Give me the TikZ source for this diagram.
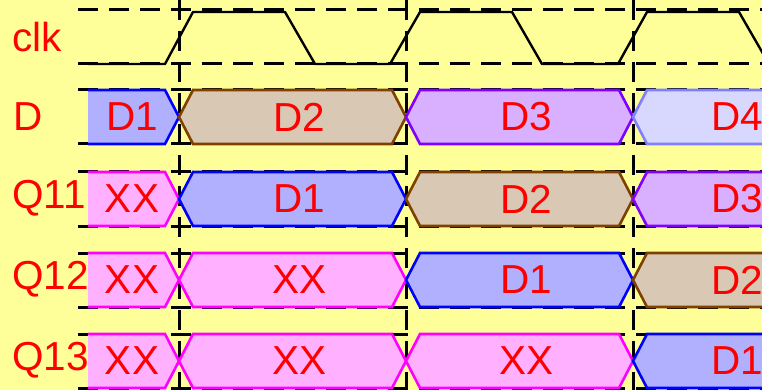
\documentclass[tikz,border=0pt]{standalone}
\usepackage{fontspec}
\setmainfont{Liberation Sans}
\definecolor{bg}{HTML}{FFFF99}
\definecolor{fblue}{HTML}{B0B0FF}\definecolor{lblue}{HTML}{0000FF}
\definecolor{ftan}{HTML}{D8C8B4}\definecolor{ltan}{HTML}{804000}
\definecolor{fpur}{HTML}{D8B0FF}\definecolor{lpur}{HTML}{8000FF}
\definecolor{flav}{HTML}{D8D8FF}\definecolor{llav}{HTML}{8080FF}
\definecolor{fpink}{HTML}{FFB0FF}\definecolor{lpink}{HTML}{FF00FF}
\tikzset{
  gridline/.style={black, line width=3pt, dash pattern=on 20pt off 11pt},
  clkline/.style={black, line width=2.4pt, line join=round},
  bus/.style={line width=2.6pt, line join=miter},
  lbl/.style={text=red, font=\fontsize{40.5}{40}\selectfont, inner sep=0pt},
  rowlbl/.style={lbl, anchor=west}
}
\newcommand\firstseg[5]{%
  \fill[#2] (88,#1) -- (165,#1) -- (179,#1+27) -- (165,#1+54) -- (88,#1+54) -- cycle;
  \draw[bus,#3] (88,#1) -- (165,#1) -- (179,#1+27) -- (165,#1+54) -- (88,#1+54);
  \node[lbl] (#5) at (132,#1+27) {#4};}
\newcommand\midseg[7]{%
  \filldraw[bus, fill=#4, draw=#5] (#1,#3+27) -- (#1+14,#3) -- (#2-14,#3) -- (#2,#3+27) -- (#2-14,#3+54) -- (#1+14,#3+54) -- cycle;
  \node[lbl] (#7) at ({(#1+14+#2)/2},#3+27) {#6};}
\newcommand\lastseg[5]{%
  \filldraw[bus, fill=#2, draw=#3] (633,#1+27) -- (647,#1) -- (790,#1) -- (790,#1+54) -- (647,#1+54) -- cycle;
  \node[lbl, anchor=west] (#5) at (711,#1+27) {#4};}
\begin{document}
\begin{tikzpicture}[x=1pt,y=-1pt]
\useasboundingbox (0,0) rectangle (762,390);
\fill[bg] (0,0) rectangle (762,390);
\begin{scope}
\clip (0,0) rectangle (762,390);
\foreach \y in {10,64,90,144,172,226,253,307,334,388}
  \draw[gridline] (78,\y) -- (762,\y);
\foreach \x in {179,406,633}
  \draw[gridline] (\x,0) -- (\x,390);
\draw[clkline] (88,64) -- (165,64) -- (193,12) -- (285,12) -- (315,64) -- (390,64) -- (420,12)
  -- (512,12) -- (542,64) -- (618,64) -- (647,12) -- (739,12) -- (769,64);
% D row
\firstseg{90}{fblue}{lblue}{D1}{dA}
\midseg{179}{406}{90}{ftan}{ltan}{D2}{dB}
\midseg{406}{633}{90}{fpur}{lpur}{D3}{dC}
\lastseg{90}{flav}{llav}{D4}{dD}
% Q11
\firstseg{172}{fpink}{lpink}{XX}{qaA}
\midseg{179}{406}{172}{fblue}{lblue}{D1}{qaB}
\midseg{406}{633}{172}{ftan}{ltan}{D2}{qaC}
\lastseg{172}{fpur}{lpur}{D3}{qaD}
% Q12
\firstseg{253}{fpink}{lpink}{XX}{qbA}
\midseg{179}{406}{253}{fpink}{lpink}{XX}{qbB}
\midseg{406}{633}{253}{fblue}{lblue}{D1}{qbC}
\lastseg{253}{ftan}{ltan}{D2}{qbD}
% Q13
\firstseg{334}{fpink}{lpink}{XX}{qcA}
\midseg{179}{406}{334}{fpink}{lpink}{XX}{qcB}
\midseg{406}{633}{334}{fpink}{lpink}{XX}{qcC}
\lastseg{334}{fblue}{lblue}{D1}{qcD}
\end{scope}
\node[rowlbl] (lclk) at (12,37) {clk};
\node[rowlbl] (lD) at (13,117) {D};
\node[rowlbl] (lq11) at (12,198) {Q11};
\node[rowlbl] (lq12) at (12,279) {Q12};
\node[rowlbl] (lq13) at (12,360) {Q13};
\end{tikzpicture}
\end{document}
